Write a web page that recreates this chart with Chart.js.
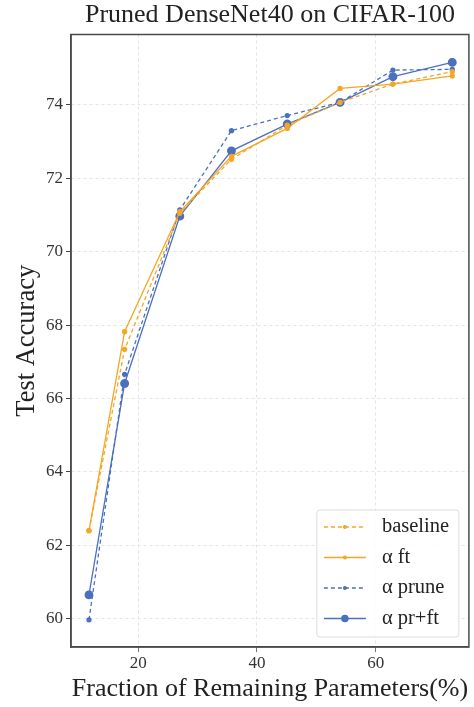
<!DOCTYPE html>
<html>
<head>
<meta charset="utf-8">
<script src="https://cdn.jsdelivr.net/npm/chart.js@4/dist/chart.umd.min.js"></script>
<style>
  html, body { margin: 0; padding: 0; background: #fff; }
  #wrap { width: 474px; height: 707px; }
</style>
</head>
<body>
<div id="wrap"><canvas id="c" width="474" height="707"></canvas></div>
<script>
const fractions = [11.7, 17.7, 27.0, 35.7, 45.1, 54.0, 62.9, 72.9];
const baseline  = [62.40, 67.34, 71.05, 72.52, 73.45, 74.07, 74.57, 74.91];
const alphaFt   = [62.40, 67.82, 71.09, 72.60, 73.36, 74.45, 74.57, 74.79];
const alphaPrune= [59.97, 66.66, 71.14, 73.30, 73.71, 74.07, 74.95, 74.97];
const alphaPrFt = [60.65, 66.41, 70.97, 72.75, 73.48, 74.07, 74.77, 75.16];
const seriesNames = ['baseline', 'α ft', 'α prune', 'α pr+ft'];
const xTicks = [20, 40, 60];
const yTicks = [60, 62, 64, 66, 68, 70, 72, 74];

const ORANGE = '#F5A623';
const BLUE = '#4A70BE';
const FONT = "'Liberation Serif', 'DejaVu Serif', serif";

function pts(ys) { return fractions.map((x, i) => ({ x: x, y: ys[i] })); }

const datasets = [
  { label: seriesNames[0], data: pts(baseline), borderColor: ORANGE, backgroundColor: ORANGE,
    borderWidth: 1.3, borderDash: [4, 3], pointRadius: 2, pointHoverRadius: 2 },
  { label: seriesNames[1], data: pts(alphaFt), borderColor: ORANGE, backgroundColor: ORANGE,
    borderWidth: 1.3, pointRadius: 2, pointHoverRadius: 2 },
  { label: seriesNames[2], data: pts(alphaPrune), borderColor: BLUE, backgroundColor: BLUE,
    borderWidth: 1.3, borderDash: [4, 3], pointRadius: 2, pointHoverRadius: 2 },
  { label: seriesNames[3], data: pts(alphaPrFt), borderColor: BLUE, backgroundColor: BLUE,
    borderWidth: 1.3, pointRadius: 3.8, pointHoverRadius: 3.8 }
];

const frame = {
  id: 'frame',
  afterDraw(chart) {
    const { ctx, chartArea: a } = chart;
    ctx.save();
    ctx.strokeStyle = '#4a4a4a';
    ctx.lineWidth = 1.5;
    ctx.strokeRect(a.left, a.top, a.right - a.left, a.bottom - a.top);
    ctx.restore();
  }
};

const insideLegend = {
  id: 'insideLegend',
  afterDraw(chart) {
    const { ctx, chartArea: a } = chart;
    const w = 142, h = 127;
    const x0 = a.right - 10 - w, y0 = a.bottom - 10 - h;
    ctx.save();
    ctx.fillStyle = 'rgba(255,255,255,0.85)';
    ctx.strokeStyle = '#dddddd';
    ctx.lineWidth = 1;
    const r = 3;
    ctx.beginPath();
    ctx.moveTo(x0 + r, y0);
    ctx.arcTo(x0 + w, y0, x0 + w, y0 + h, r);
    ctx.arcTo(x0 + w, y0 + h, x0, y0 + h, r);
    ctx.arcTo(x0, y0 + h, x0, y0, r);
    ctx.arcTo(x0, y0, x0 + w, y0, r);
    ctx.closePath();
    ctx.fill();
    ctx.stroke();
    chart.data.datasets.forEach((ds, i) => {
      const cy = y0 + 17 + i * 30.5;
      const lx0 = x0 + 7, lx1 = x0 + 49;
      ctx.strokeStyle = ds.borderColor;
      ctx.lineWidth = ds.borderWidth;
      ctx.setLineDash(ds.borderDash || []);
      ctx.beginPath();
      ctx.moveTo(lx0, cy);
      ctx.lineTo(lx1, cy);
      ctx.stroke();
      ctx.setLineDash([]);
      ctx.fillStyle = ds.backgroundColor;
      ctx.beginPath();
      ctx.arc((lx0 + lx1) / 2, cy, ds.pointRadius, 0, Math.PI * 2);
      ctx.fill();
      ctx.fillStyle = '#222';
      ctx.font = "20.5px " + FONT;
      ctx.textBaseline = 'middle';
      ctx.textAlign = 'left';
      ctx.fillText(ds.label, x0 + 65, cy);
    });
    ctx.restore();
  }
};

new Chart(document.getElementById('c'), {
  type: 'line',
  data: { datasets: datasets },
  options: {
    responsive: false,
    animation: false,
    devicePixelRatio: 1,
    layout: { padding: { left: 0, right: 4, top: 0, bottom: 0 } },
    plugins: {
      legend: { display: false },
      tooltip: { enabled: false },
      title: {
        display: true,
        fullSize: false,
        text: 'Pruned DenseNet40 on CIFAR-100',
        color: '#222',
        font: { family: FONT, size: 26, weight: 'normal' },
        padding: { top: 0, bottom: 3.3 }
      }
    },
    scales: {
      x: {
        type: 'linear',
        min: 8.67,
        max: 75.7,
        afterBuildTicks(s) { s.ticks = xTicks.map(v => ({ value: v })); },
        afterFit(s) { s.height = 60; },
        ticks: { color: '#333', font: { family: FONT, size: 17 }, padding: 1 },
        grid: { color: '#e4e4e4', lineWidth: 1, tickColor: '#444', tickLength: 5, tickBorderDash: [1, 0] },
        border: { display: true, color: '#4a4a4a', width: 1.5, dash: [3, 3] },
        title: { display: true, text: 'Fraction of Remaining Parameters(%)', color: '#222',
                 font: { family: FONT, size: 26 }, padding: { top: 2, bottom: 2 } }
      },
      y: {
        type: 'linear',
        min: 59.23,
        max: 75.92,
        afterBuildTicks(s) { s.ticks = yTicks.map(v => ({ value: v })); },
        afterFit(s) { s.width = 71; },
        ticks: { color: '#333', font: { family: FONT, size: 17 }, padding: 3 },
        grid: { color: '#e4e4e4', lineWidth: 1, tickColor: '#444', tickLength: 5, tickBorderDash: [1, 0] },
        border: { display: true, color: '#4a4a4a', width: 1.5, dash: [3, 3] },
        title: { display: true, text: 'Test Accuracy', color: '#222',
                 font: { family: FONT, size: 26.5 }, padding: { top: 11, bottom: 0 } }
      }
    }
  },
  plugins: [frame, insideLegend]
});
</script>
</body>
</html>
